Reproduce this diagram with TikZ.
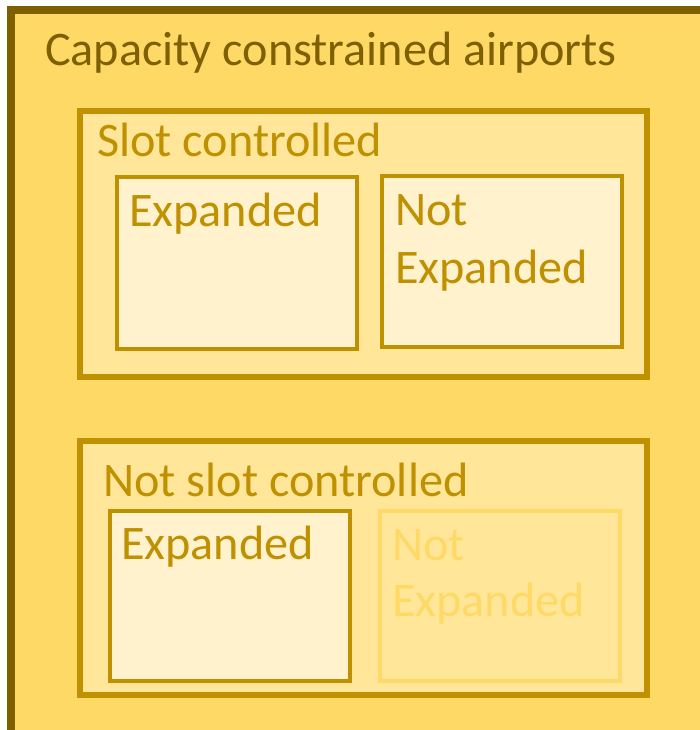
\documentclass[tikz,border=0pt]{standalone}
\usepackage{fontspec}
\setmainfont{Carlito}
\definecolor{darkgold}{HTML}{7F6000}
\definecolor{midgold}{HTML}{BF9000}
\definecolor{fillA}{HTML}{FFD966}
\definecolor{fillB}{HTML}{FFE699}
\definecolor{fillC}{HTML}{FFF2CC}
\begin{document}
\begin{tikzpicture}[x=1pt,y=-1pt,
  box/.style={draw, inner sep=0pt, anchor=north west, outer sep=0pt},
  groupbox/.style={box, line width=6pt, draw=midgold, fill=fillB},
  leafbox/.style={box, line width=4pt, draw=midgold, fill=fillC},
  fadedbox/.style={box, line width=4pt, draw=fillA, fill=fillB},
  lbl/.style={anchor=base west, inner sep=0pt, font=\fontsize{48.2}{58}\selectfont},
]
\useasboundingbox (0,0) rectangle (700,730);
\clip (0,0) rectangle (700,730);
% outer
\node[box, line width=8pt, draw=darkgold, fill=fillA, minimum width=740pt, minimum height=760pt] (outer) at (11,10) {};
\node[lbl, text=darkgold] (outerlbl) at (45,66) {Capacity constrained airports};
% slot controlled
\node[groupbox, minimum width=567pt, minimum height=266pt] (slot) at (80,111) {};
\node[lbl, text=midgold] (slotlbl) at (97,157) {Slot controlled};
\node[leafbox, minimum width=240pt, minimum height=172pt] (slotexp) at (117,177) {};
\node[lbl, text=midgold] (slotexplbl) at (129,226) {Expanded};
\node[leafbox, minimum width=240pt, minimum height=171pt] (slotnot) at (382,176) {};
\node[lbl, text=midgold] (slotnotlblA) at (395,225) {Not};
\node[lbl, text=midgold] (slotnotlblB) at (395,283) {Expanded};
% not slot controlled
\node[groupbox, minimum width=567pt, minimum height=254pt] (noslot) at (80,441) {};
\node[lbl, text=midgold] (noslotlbl) at (103,496) {Not slot controlled};
\node[leafbox, minimum width=240pt, minimum height=170pt] (noslotexp) at (109.5,511) {};
\node[lbl, text=midgold] (noslotexplbl) at (121,559) {Expanded};
\node[fadedbox, minimum width=240pt, minimum height=170pt] (noslotnot) at (380,511) {};
\node[lbl, text=fillA] (noslotnotlblA) at (392,560) {Not};
\node[lbl, text=fillA] (noslotnotlblB) at (392,616) {Expanded};
\end{tikzpicture}
\end{document}
